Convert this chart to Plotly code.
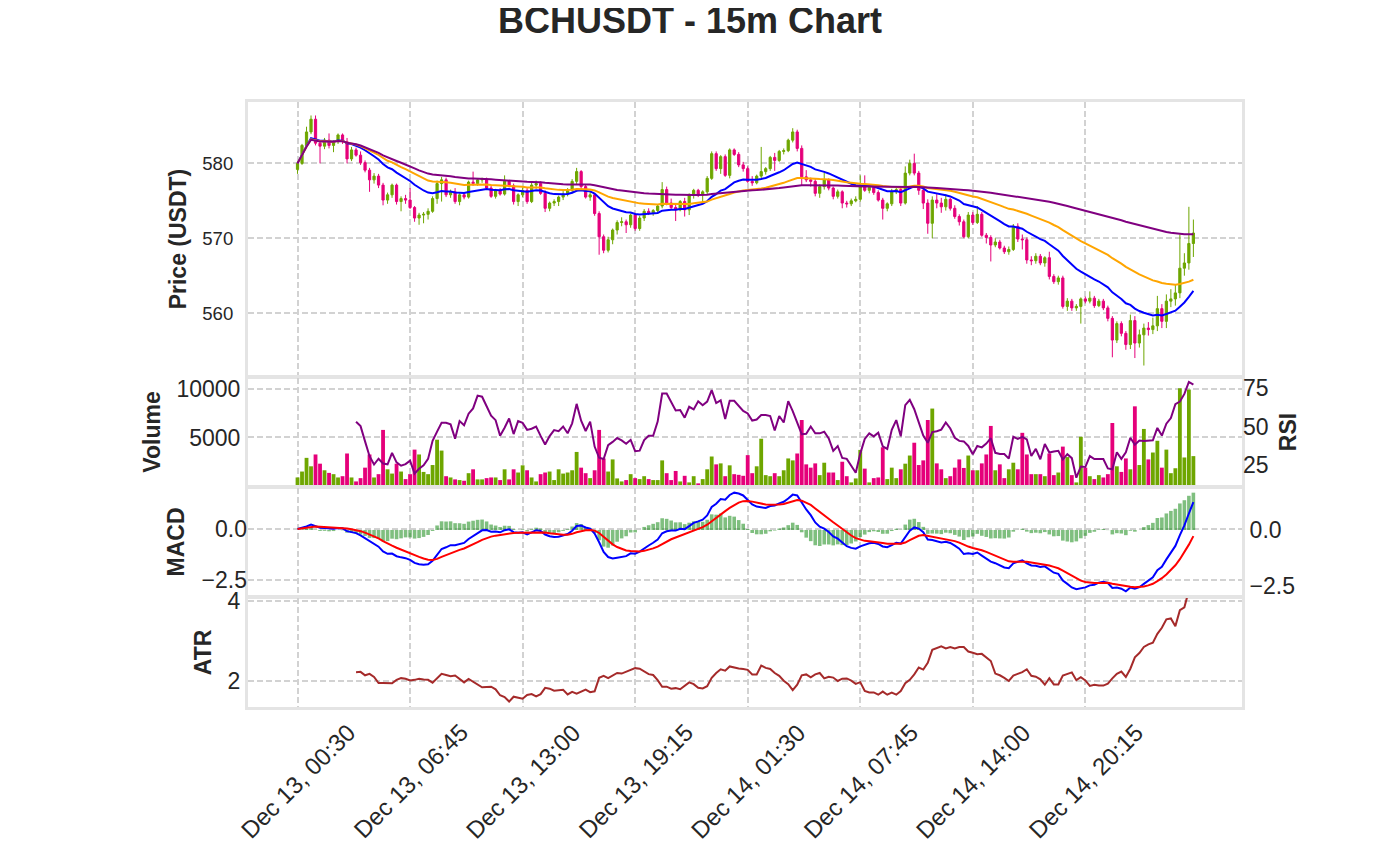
import pandas as pd
import plotly.graph_objects as go
from plotly.subplots import make_subplots

# 15m candles
opens = [
    579.2, 580.0, 582.4, 584.2, 585.9, 582.7, 582.3, 583.1, 582.4, 582.9,
    583.8, 582.9, 580.6, 581.8, 581.1, 580.1, 579.1, 577.8, 578.3, 577.1,
    575.1, 575.8, 577.1, 574.9, 575.3, 575.1, 574.1, 572.7, 573.1, 573.2,
    573.6, 575.3, 577.3, 577.8, 575.8, 576.2, 574.9, 575.8, 575.5, 577.5,
    577.3, 577.8, 577.9, 576.7, 575.6, 576.4, 575.9, 577.6, 577.0, 574.9,
    575.8, 576.4, 574.9, 577.1, 577.3, 576.0, 574.0, 574.7, 574.9, 575.5,
    575.9, 576.4, 577.6, 578.9, 576.9, 575.5, 575.8, 573.3, 570.2, 568.4,
    569.8, 571.1, 572.1, 572.2, 571.8, 573.1, 571.3, 572.7, 573.6, 573.4,
    573.7, 574.3, 576.5, 574.7, 574.1, 573.8, 574.9, 573.8, 575.8, 576.4,
    575.8, 576.2, 578.0, 581.3, 579.3, 580.9, 578.4, 581.8, 581.2, 579.8,
    579.3, 577.6, 577.4, 578.3, 578.9, 579.3, 580.8, 580.4, 581.6, 581.7,
    583.1, 584.2, 582.0, 578.2, 577.8, 577.6, 576.0, 576.9, 577.8, 576.7,
    575.6, 576.2, 574.7, 574.6, 575.0, 575.2, 576.9, 576.4, 576.8, 576.1,
    575.1, 574.0, 574.6, 576.2, 576.5, 574.7, 578.7, 580.0, 578.7, 576.4,
    574.7, 572.0, 575.1, 574.7, 574.2, 575.2, 574.0, 572.9, 572.2, 570.2,
    573.1, 572.1, 573.2, 570.4, 570.1, 569.1, 569.5, 568.7, 568.2, 568.5,
    571.6, 569.9, 569.8, 567.1, 567.0, 567.6, 566.7, 567.4, 564.9, 564.2,
    564.7, 560.9, 561.6, 560.7, 560.9, 561.9, 561.6, 562.0, 561.0, 561.6,
    560.7, 559.3, 556.4, 558.6, 557.3, 555.8, 559.0, 556.0, 557.1, 558.0,
    557.8, 558.3, 560.6, 558.9, 561.6, 561.9, 562.7, 566.0, 566.7, 569.3,
]
highs = [
    580.3, 582.6, 584.9, 586.4, 586.4, 583.0, 583.4, 584.0, 583.1, 584.0,
    584.0, 583.4, 582.2, 582.1, 581.6, 580.4, 579.4, 578.7, 578.6, 577.4,
    576.1, 577.3, 577.3, 575.6, 575.8, 576.7, 574.3, 573.4, 573.5, 574.0,
    575.6, 577.7, 578.2, 578.1, 576.5, 576.7, 576.0, 576.0, 577.7, 578.9,
    578.0, 578.1, 578.1, 577.0, 576.6, 576.7, 578.4, 577.8, 577.3, 576.0,
    576.8, 576.7, 577.4, 577.7, 577.6, 576.4, 574.9, 575.2, 575.7, 576.3,
    576.7, 577.9, 579.4, 579.1, 577.2, 576.2, 576.0, 573.6, 570.5, 570.2,
    571.3, 572.4, 572.8, 572.5, 573.3, 573.4, 573.0, 573.9, 574.0, 573.9,
    574.5, 577.5, 576.9, 575.3, 574.6, 575.1, 575.4, 576.0, 576.6, 576.6,
    576.4, 578.3, 581.6, 581.6, 581.1, 581.2, 582.0, 582.0, 581.5, 580.2,
    579.6, 578.3, 578.5, 582.2, 579.5, 581.0, 581.4, 581.8, 582.0, 583.3,
    584.7, 584.5, 582.4, 579.1, 578.1, 577.9, 577.2, 578.8, 578.0, 576.9,
    576.5, 576.4, 575.0, 575.3, 575.6, 578.4, 578.4, 577.1, 577.0, 576.4,
    575.4, 574.8, 576.6, 576.9, 576.8, 579.6, 580.5, 581.3, 579.0, 576.7,
    575.2, 575.6, 575.9, 575.4, 575.9, 575.4, 574.4, 573.2, 572.5, 573.5,
    573.5, 574.3, 573.5, 570.7, 570.4, 570.0, 569.8, 569.0, 568.9, 571.9,
    572.0, 570.5, 570.1, 567.6, 568.0, 567.9, 567.6, 568.2, 565.2, 565.0,
    565.0, 562.0, 561.9, 561.2, 562.1, 562.2, 562.9, 562.3, 561.9, 561.9,
    561.0, 559.6, 558.9, 558.9, 557.6, 559.8, 559.6, 557.8, 558.6, 558.8,
    559.4, 562.3, 561.2, 562.5, 563.2, 563.8, 570.5, 568.0, 574.2, 572.5,
]
lows = [
    578.6, 579.8, 582.2, 583.9, 582.4, 580.0, 581.9, 582.0, 581.5, 582.6,
    582.6, 580.0, 580.3, 580.9, 579.8, 578.8, 576.2, 577.3, 576.7, 574.4,
    574.6, 575.4, 574.5, 573.6, 574.6, 573.9, 572.2, 571.8, 572.0, 572.5,
    573.4, 574.6, 574.9, 575.5, 575.4, 574.6, 574.4, 575.2, 575.3, 577.0,
    577.0, 577.4, 576.5, 575.4, 575.3, 575.7, 575.7, 576.8, 574.5, 574.3,
    575.5, 574.6, 574.7, 576.6, 575.8, 573.5, 573.6, 574.3, 574.3, 575.1,
    575.6, 576.0, 577.2, 576.6, 575.3, 575.0, 573.0, 567.8, 568.0, 568.1,
    569.2, 570.5, 571.6, 570.7, 571.4, 571.0, 571.0, 572.3, 573.1, 573.0,
    573.3, 574.0, 574.4, 573.9, 572.3, 573.6, 572.9, 573.1, 575.3, 575.5,
    574.6, 575.9, 577.8, 579.0, 578.6, 578.2, 578.0, 581.0, 579.5, 578.9,
    577.4, 577.0, 577.2, 578.0, 578.5, 579.0, 579.0, 580.2, 581.2, 581.5,
    582.8, 581.6, 577.1, 577.5, 576.9, 575.6, 575.4, 576.5, 576.4, 575.2,
    575.3, 574.0, 574.1, 574.3, 574.8, 574.9, 576.2, 576.0, 575.8, 574.9,
    572.5, 573.6, 574.3, 575.9, 574.3, 574.5, 578.4, 578.4, 575.8, 573.9,
    570.6, 570.0, 574.0, 573.4, 573.7, 573.7, 572.6, 571.7, 570.0, 570.0,
    571.8, 571.9, 570.2, 569.3, 566.9, 568.8, 568.5, 567.9, 567.8, 568.3,
    569.5, 568.5, 566.6, 566.4, 566.6, 566.4, 566.2, 564.5, 563.9, 563.8,
    560.6, 560.3, 560.3, 560.3, 558.6, 561.3, 561.3, 560.7, 560.8, 560.4,
    558.9, 554.1, 556.0, 556.9, 555.1, 555.2, 554.0, 555.4, 553.0, 557.0,
    557.2, 557.6, 558.0, 558.0, 560.8, 561.0, 562.0, 565.0, 565.8, 567.5,
]
closes = [
    580.0, 582.4, 584.2, 585.9, 582.7, 582.3, 583.1, 582.4, 582.9, 583.8,
    582.9, 580.6, 581.8, 581.1, 580.1, 579.1, 577.8, 578.3, 577.1, 575.1,
    575.8, 577.1, 574.9, 575.3, 575.1, 574.1, 572.7, 573.1, 573.2, 573.6,
    575.3, 577.3, 577.8, 575.8, 576.2, 574.9, 575.8, 575.5, 577.5, 577.3,
    577.8, 577.9, 576.7, 575.6, 576.4, 575.9, 577.6, 577.0, 574.9, 575.8,
    576.4, 574.9, 577.1, 577.3, 576.0, 574.0, 574.7, 574.9, 575.5, 575.9,
    576.4, 577.6, 578.9, 576.9, 575.5, 575.8, 573.3, 570.2, 568.4, 569.8,
    571.1, 572.1, 572.2, 571.8, 573.1, 571.3, 572.7, 573.6, 573.4, 573.7,
    574.3, 576.5, 574.7, 574.1, 573.8, 574.9, 573.8, 575.8, 576.4, 575.8,
    576.2, 578.0, 581.3, 579.3, 580.9, 578.4, 581.8, 581.2, 579.8, 579.3,
    577.6, 577.4, 578.3, 578.9, 579.3, 580.8, 580.4, 581.6, 581.7, 583.1,
    584.2, 582.0, 578.2, 577.8, 577.6, 576.0, 576.9, 577.8, 576.7, 575.6,
    576.2, 574.7, 574.6, 575.0, 575.2, 576.9, 576.4, 576.8, 576.1, 575.1,
    574.0, 574.6, 576.2, 576.5, 574.7, 578.7, 580.0, 578.7, 576.4, 574.7,
    572.0, 575.1, 574.7, 574.2, 575.2, 574.0, 572.9, 572.2, 570.2, 573.1,
    572.1, 573.2, 570.4, 570.1, 569.1, 569.5, 568.7, 568.2, 568.5, 571.6,
    569.9, 569.8, 567.1, 567.0, 567.6, 566.7, 567.4, 564.9, 564.2, 564.7,
    560.9, 561.6, 560.7, 560.9, 561.9, 561.6, 562.0, 561.0, 561.6, 560.7,
    559.3, 556.4, 558.6, 557.3, 555.8, 559.0, 556.0, 557.1, 558.0, 557.8,
    558.3, 560.6, 558.9, 561.6, 561.9, 562.7, 566.0, 566.7, 569.3, 570.7,
]
volumes = [
    880, 1490, 2900, 2030, 3250, 2300, 1620, 1350, 1220, 880,
    1010, 3350, 880, 470, 810, 1890, 3250, 880, 1220, 5780,
    1720, 1280, 2300, 1490, 710, 1220, 3750, 3250, 1450, 1220,
    2160, 4770, 3650, 1010, 880, 680, 610, 540, 1320, 1720,
    680, 680, 810, 880, 880, 610, 1720, 680, 1720, 1390,
    2130, 1620, 880, 470, 1220, 1390, 1490, 610, 1720, 1280,
    1390, 1620, 3510, 1890, 1320, 810, 1620, 5780, 2840, 1490,
    2740, 780, 470, 610, 1220, 810, 710, 1010, 710, 610,
    610, 2640, 1320, 610, 1550, 470, 1050, 370, 1010, 270,
    710, 1720, 3040, 2230, 2330, 1010, 2130, 1220, 1150, 1050,
    3180, 1320, 2030, 4870, 1120, 1010, 1320, 1010, 1620, 2840,
    2640, 3350, 6800, 2230, 1890, 2330, 1120, 2400, 1390, 1390,
    610, 2500, 1010, 370, 780, 3720, 1790, 370, 810, 880,
    3990, 710, 1890, 810, 1720, 2300, 3140, 4460, 2160, 2640,
    6800, 7980, 2330, 1720, 810, 1010, 1890, 2740, 1860, 3140,
    1620, 1620, 2330, 3250, 6190, 1620, 2230, 810, 1720, 2400,
    1720, 5480, 3250, 1220, 1220, 1220, 1010, 3350, 1120, 1390,
    4060, 2980, 1120, 370, 5070, 1890, 1010, 710, 1120, 880,
    1220, 6490, 2030, 1450, 2840, 1720, 8210, 2160, 5880, 2740,
    3450, 4660, 1890, 3750, 1320, 1830, 10070, 2940, 9940, 3080,
]

tick_bars = [0, 25, 50, 75, 100, 125, 150, 175]
tick_labels = [
    "Dec 13, 00:30", "Dec 13, 06:45", "Dec 13, 13:00", "Dec 13, 19:15",
    "Dec 14, 01:30", "Dec 14, 07:45", "Dec 14, 14:00", "Dec 14, 20:15",
]

UP = "#6ea600"
DOWN = "#e5007a"
TEXT = "#262626"
FONT = "Liberation Sans, Arial, sans-serif"

# indicators, computed from the candles the same way the original script would
close = pd.Series(closes)
high = pd.Series(highs)
low = pd.Series(lows)
bars = list(range(len(closes)))

ema_fast = close.ewm(span=20).mean()
ema_mid = close.ewm(span=50).mean()
ema_slow = close.ewm(span=200).mean()

delta = close.diff()
gain = delta.where(delta > 0, 0).rolling(14).mean()
loss = (-delta.where(delta < 0, 0)).rolling(14).mean()
rsi = 100 - 100 / (1 + gain / loss)

macd = close.ewm(span=12).mean() - close.ewm(span=26).mean()
signal = macd.ewm(span=9).mean()
hist = macd - signal

prev_close = close.shift()
true_range = pd.concat(
    [high - low, (high - prev_close).abs(), (low - prev_close).abs()], axis=1
).max(axis=1)
atr = true_range.rolling(14).mean()

vol_colors = [UP if c >= o else DOWN for o, c in zip(opens, closes)]

fig = make_subplots(
    rows=4,
    cols=1,
    shared_xaxes=True,
    vertical_spacing=0.004,
    row_heights=[0.45, 0.18, 0.18, 0.18],
    specs=[[{}], [{"secondary_y": True}], [{"secondary_y": True}], [{}]],
)

fig.add_trace(
    go.Candlestick(
        x=bars,
        open=opens,
        high=highs,
        low=lows,
        close=closes,
        increasing={"line": {"color": UP, "width": 1}, "fillcolor": UP},
        decreasing={"line": {"color": DOWN, "width": 1}, "fillcolor": DOWN},
        whiskerwidth=0,
        name="BCHUSDT",
    ),
    row=1,
    col=1,
)
for series, color in [(ema_fast, "#0000ff"), (ema_mid, "#ffa500"), (ema_slow, "#800080")]:
    fig.add_trace(
        go.Scatter(x=bars, y=series, mode="lines", line={"color": color, "width": 2}),
        row=1,
        col=1,
    )

fig.add_trace(
    go.Bar(x=bars, y=volumes, marker_color=vol_colors, marker_line_width=0, width=0.85),
    row=2,
    col=1,
    secondary_y=False,
)
fig.add_trace(
    go.Scatter(x=bars, y=rsi, mode="lines", line={"color": "#800080", "width": 2}),
    row=2,
    col=1,
    secondary_y=True,
)

# histogram on the primary axis so the MACD lines are drawn over it
fig.add_trace(
    go.Bar(x=bars, y=hist, marker_color="rgba(0,128,0,0.5)", marker_line_width=0, width=0.8),
    row=3,
    col=1,
    secondary_y=False,
)
fig.add_trace(
    go.Scatter(x=bars, y=macd, mode="lines", line={"color": "#0000ff", "width": 2}),
    row=3,
    col=1,
    secondary_y=True,
)
fig.add_trace(
    go.Scatter(x=bars, y=signal, mode="lines", line={"color": "#ff0000", "width": 2}),
    row=3,
    col=1,
    secondary_y=True,
)

fig.add_trace(
    go.Scatter(x=bars, y=atr, mode="lines", line={"color": "#a52a2a", "width": 2}),
    row=4,
    col=1,
)

frame = {"showline": True, "mirror": True, "linecolor": "#e4e4e4", "linewidth": 3}
grid = {"showgrid": True, "gridcolor": "#d2d2d2", "gridwidth": 1.5, "griddash": "6px,3px"}
tick_font = {"size": 23, "color": TEXT, "family": FONT}
title_font = {"size": 23, "color": TEXT, "family": FONT, "weight": "bold"}

fig.update_xaxes(
    domain=[0, 1],
    range=[-11, 209.8],
    tickvals=tick_bars,
    ticktext=tick_labels,
    showticklabels=False,
    ticks="",
    zeroline=False,
    automargin=False,
    **frame,
    **grid,
)

# date labels centred under their ticks, rotated like the original
for bar, label in zip(tick_bars, tick_labels):
    fig.add_annotation(
        x=bar,
        xref="x4",
        y=0,
        yref="paper",
        yshift=-9,
        text=label,
        textangle=-45,
        showarrow=False,
        xanchor="center",
        yanchor="top",
        font={"size": 24, "color": TEXT, "family": FONT},
    )

# the page body adds an 8px offset, so the figure is 8px smaller than the window
fig.update_layout(
    width=1372,
    height=854,
    margin={"l": 240, "r": 138, "t": 94, "b": 155},
    paper_bgcolor="white",
    plot_bgcolor="white",
    showlegend=False,
    font={"family": FONT, "color": TEXT},
    title={
        "text": "BCHUSDT - 15m Chart",
        "x": 0.4971,
        "xanchor": "center",
        "y": 0.985,
        "yanchor": "middle",
        "font": {"size": 36, "color": TEXT, "family": FONT, "weight": "bold"},
    },
    xaxis={"rangeslider": {"visible": False}},
    yaxis={
        "domain": [0.5471, 1.0],
        "range": [551.6, 588.2],
        "tickvals": [560, 570, 580],
        "title": {"text": "Price (USDT)", "font": title_font, "standoff": 10},
        "tickfont": {"size": 18.6, "color": TEXT, "family": FONT},
        "ticklabelstandoff": 8,
        "ticks": "",
        "zeroline": False,
        "automargin": False,
        **frame,
        **grid,
    },
    yaxis2={
        "domain": [0.3653, 0.5438],
        "range": [0, 11130],
        "tickvals": [5000, 10000],
        "tickformat": "d",
        "title": {"text": "Volume", "font": title_font, "standoff": 10},
        "tickfont": tick_font,
        "ticks": "",
        "zeroline": False,
        "automargin": False,
        **frame,
        **grid,
    },
    yaxis3={
        "range": [11.4, 81.5],
        "tickvals": [25, 50, 75],
        "title": {"text": "RSI", "font": title_font, "standoff": 12},
        "tickfont": tick_font,
        "ticks": "",
        "showgrid": False,
        "zeroline": False,
        "automargin": False,
        "side": "right",
    },
    yaxis4={
        "domain": [0.1835, 0.3620],
        "range": [-2.95, 1.875],
        "tickvals": [-2.5, 0],
        "tickformat": ".1f",
        "tickfont": tick_font,
        "ticks": "",
        "side": "right",
        "showgrid": False,
        "zeroline": False,
        "automargin": False,
        **frame,
    },
    yaxis5={
        "range": [-3.28, 2.01],
        "tickvals": [-2.5, 0],
        "tickformat": ".1f",
        "title": {"text": "MACD", "font": title_font, "standoff": 10},
        "tickfont": tick_font,
        "ticks": "",
        "side": "left",
        "zeroline": False,
        "automargin": False,
        **grid,
    },
    yaxis6={
        "domain": [0.0, 0.1802],
        "range": [1.35, 4.075],
        "tickvals": [2, 4],
        "title": {"text": "ATR", "font": title_font, "standoff": 10},
        "tickfont": tick_font,
        "ticks": "",
        "zeroline": False,
        "automargin": False,
        **frame,
        **grid,
    },
)

fig.write_html("out.html")
